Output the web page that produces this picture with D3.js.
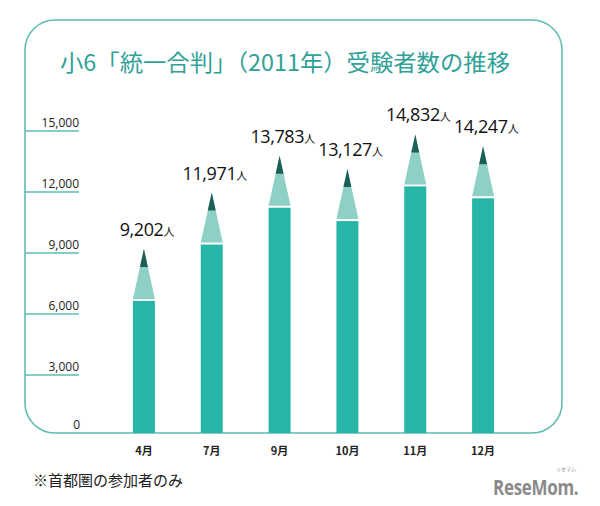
<!DOCTYPE html>
<html><head><meta charset="utf-8">
<script src="https://cdn.jsdelivr.net/npm/d3@7"></script>
<style>body{margin:0;background:#fff;}svg{display:block;}</style>
</head><body>
<script>
const title = "小6「統一合判」（2011年）受験者数の推移";
const months = ["4月","7月","9月","10月","11月","12月"];
const examinees = [9202, 11971, 13783, 13127, 14832, 14247];
const yTicks = [0, 3000, 6000, 9000, 12000, 15000];
const note = "※首都圏の参加者のみ";
const unit = "人";

const W = 600, H = 506;
const svg = d3.select("body").append("svg").attr("width", W).attr("height", H);

const box = {l: 25, t: 20, r: 562, b: 433};
const teal = "#26b5a6", light = "#8ed0c5", dark = "#1c5f56", border = "#5dbcb4";

// rounded frame
const rr = 30;
const p = d3.path();
p.moveTo(box.l + rr, box.t);
p.lineTo(box.r - rr, box.t);
p.arcTo(box.r, box.t, box.r, box.t + rr, rr);
p.lineTo(box.r, box.b - rr);
p.arcTo(box.r, box.b, box.r - rr, box.b, rr);
p.lineTo(box.l + rr, box.b);
p.arcTo(box.l, box.b, box.l, box.b - rr, rr);
p.lineTo(box.l, box.t + rr);
p.arcTo(box.l, box.t, box.l + rr, box.t, rr);
svg.append("path").attr("d", p.toString()).attr("fill", "none").attr("stroke", border).attr("stroke-width", 1.6);

svg.append("text").attr("x", 60).attr("y", 71).attr("fill", "#2fa197")
  .attr("font-family", "'Noto Sans CJK JP', sans-serif").attr("font-size", 23)
  .attr("textLength", 450).attr("lengthAdjust", "spacingAndGlyphs").text(title);

const y = d3.scaleLinear().domain([0, 15000]).range([436, 131]);
const x = d3.scaleBand().domain(months).range([110, 517]).paddingInner(0.676).paddingOuter(0.338);

// y ticks
const yg = svg.append("g");
yg.selectAll("line").data(yTicks.filter(d => d > 0)).join("line")
  .attr("x1", box.l).attr("x2", 79).attr("y1", d => y(d)).attr("y2", d => y(d))
  .attr("stroke", border).attr("stroke-width", 1.5);
yg.selectAll("text").data(yTicks).join("text")
  .attr("x", d => d === 0 ? 80 : 79).attr("y", d => d === 0 ? 429 : y(d) - 4)
  .attr("text-anchor", "end").attr("font-family", "'Open Sans', sans-serif").attr("font-size", 12)
  .attr("fill", "#222").text(d => d3.format(",")(d));

// pencil bars
const cone = 50, tip = 18, gap = 2;
const bw = x.bandwidth();
const g = svg.selectAll("g.bar").data(months.map((m, i) => ({m, v: examinees[i]}))).join("g").attr("class", "bar");
g.append("rect").attr("x", d => x(d.m)).attr("width", bw)
  .attr("y", d => y(d.v) + cone + gap).attr("height", d => box.b - (y(d.v) + cone + gap))
  .attr("fill", teal);
g.append("path").attr("fill", light).attr("d", d => {
  const cx = x(d.m) + bw / 2, top = y(d.v);
  return `M${cx},${top}L${x(d.m) + bw},${top + cone}L${x(d.m)},${top + cone}Z`;
});
g.append("path").attr("fill", dark).attr("d", d => {
  const cx = x(d.m) + bw / 2, top = y(d.v), hw = bw / 2 * tip / cone;
  return `M${cx},${top}L${cx + hw},${top + tip}L${cx - hw},${top + tip}Z`;
});
const lab = g.append("text").attr("x", d => x(d.m) + bw / 2 + 3).attr("y", d => y(d.v) - 13)
  .attr("text-anchor", "middle").attr("font-family", "'Open Sans', sans-serif").attr("fill", "#111")
  .attr("letter-spacing", -0.4);
lab.append("tspan").attr("font-size", 18).text(d => d3.format(",")(d.v));
lab.append("tspan").attr("font-size", 11).attr("font-family", "'Noto Sans CJK JP', sans-serif").text(unit);

// x labels
svg.selectAll("text.xl").data(months).join("text").attr("class", "xl")
  .attr("x", d => x(d) + bw / 2).attr("y", 455).attr("text-anchor", "middle")
  .attr("font-family", "'Noto Sans CJK JP', sans-serif").attr("font-weight", "bold").attr("font-size", 11)
  .attr("fill", "#222").text(d => d);

svg.append("text").attr("x", 33).attr("y", 486).attr("font-family", "'Noto Sans CJK JP', sans-serif")
  .attr("font-size", 15).attr("fill", "#222").text(note);

// logo
svg.append("text").attr("transform", "translate(493,495) scale(1,1.3)").attr("font-family", "'Open Sans', sans-serif")
  .attr("font-weight", "bold").attr("font-size", 17).attr("fill", "#8a8a8a").attr("letter-spacing", -0.3)
  .text("ReseMom.");
svg.append("text").attr("x", 566).attr("y", 471).attr("text-anchor", "middle").attr("font-family", "'Noto Sans CJK JP', sans-serif")
  .attr("font-size", 5).attr("fill", "#8a8a8a").text("リセマム");
</script>
</body></html>
